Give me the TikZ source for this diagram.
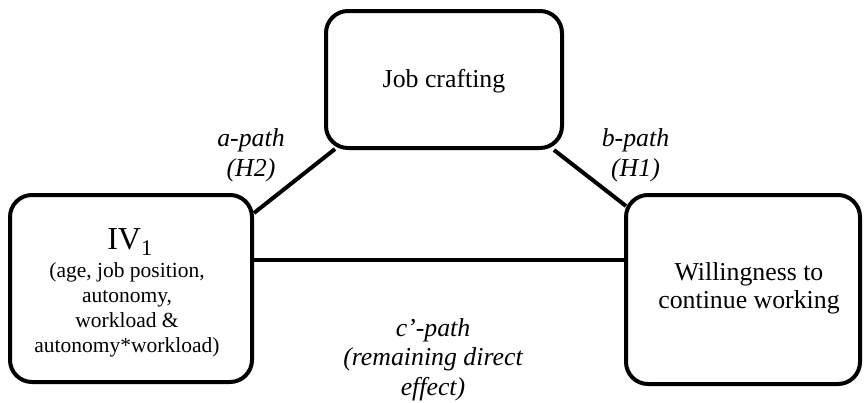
\documentclass[tikz,border=0pt]{standalone}
\usepackage{fontspec}
\setmainfont{Liberation Serif}
\usetikzlibrary{calc}
\begin{document}
\begin{tikzpicture}[x=1pt,y=-1pt,
  box/.style={draw=black,line width=4pt,rounded corners=22pt,fill=white,inner sep=0pt},
  conn/.style={draw=black,line width=4pt},
  main/.style={font=\fontsize{25.8}{28}\selectfont,align=center,anchor=base,inner sep=0pt},
  small/.style={font=\fontsize{21.5}{25}\selectfont,align=center,anchor=base,inner sep=0pt},
  lab/.style={font=\fontsize{25.8}{29.5}\selectfont\itshape,align=center,anchor=base,inner sep=0pt}]
\useasboundingbox (0,0) rectangle (864,402);
\node[box,minimum width=242pt,minimum height=187pt] (iv) at (131,288.5) {};
\node[box,minimum width=236pt,minimum height=137pt] (job) at (444,79.5) {};
\node[box,minimum width=234pt,minimum height=189pt] (will) at (743,289.5) {};
\draw[conn] ($(iv.north east)+(0,20)$) -- ($(job.south west)+(11,-1)$);
\draw[conn] ($(job.south east)+(-10,0)$) -- ($(will.north west)+(2,13)$);
\draw[conn] ($(iv.east)+(0,-28.5)$) -- ($(will.west)+(0,-29.5)$);
\node[main] (jobt) at (444,87) {Job crafting};
\node[main] (willt) at (749,308) {Willingness to\\continue working};
\node[main,font=\fontsize{32}{36}\selectfont] (ivt) at (130,249) {IV\textsubscript{1}};
\node[small] (ivs) at (127,352) {(age, job position,\\autonomy,\\workload \&\\autonomy*workload)};
\node[lab] (la) at (251,176) {a-path\\(H2)};
\node[lab] (lb) at (635.5,176) {b-path\\(H1)};
\node[lab] (lc) at (433,395) {c’-path\\(remaining direct\\effect)};
\end{tikzpicture}
\end{document}
